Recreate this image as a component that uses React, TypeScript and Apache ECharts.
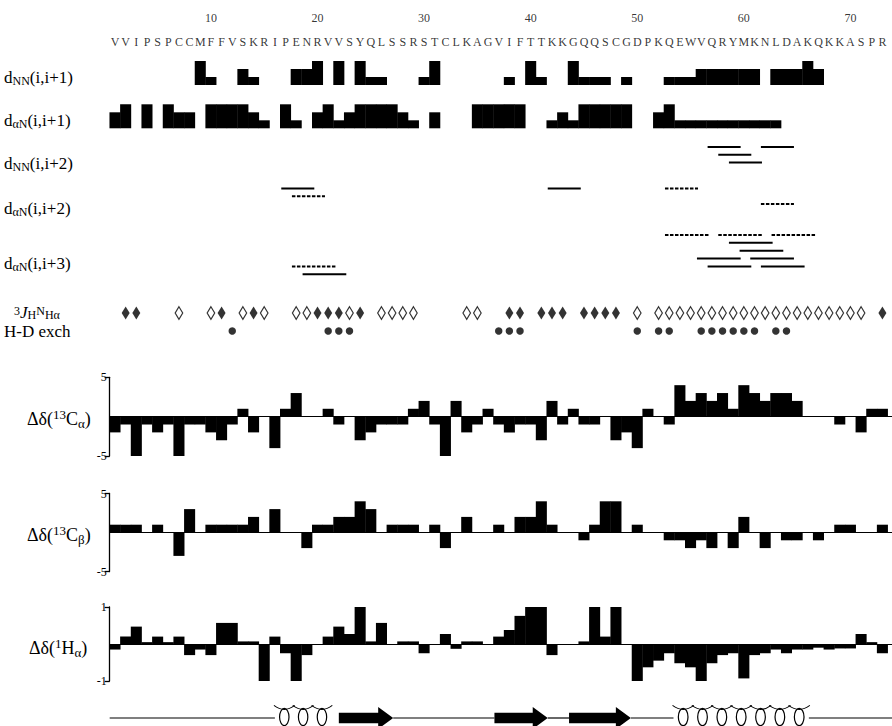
import React, { useEffect, useRef } from 'react';
import * as echarts from 'echarts';

// ---------------- data ----------------
const sequence = 'VVIPSPCCMFFVSKRIPENRVVSYQLSSRSTCLKAGVIFTTKKGQQSCGDPKQEWVQRYMKNLDAKQKKASPR'.split('');
const residueTicks = [10, 20, 30, 40, 50, 60, 70];

// sequential NOEs [residue, intensity] 1 = weak, 2 = medium, 3 = strong
const dNNi1: [number, number][] = [[9,3],[10,1],[13,2],[14,1],[18,2],[19,2],[20,3],[22,3],[24,3],[25,1],[26,1],[30,1],[31,3],[38,1],[40,3],[41,1],[44,3],[45,1],[46,1],[47,1],[49,1],[53,1],[54,1],[55,1],[56,2],[57,2],[58,2],[59,2],[60,2],[61,2],[63,2],[64,2],[65,2],[66,3],[67,2]];
const daNi1: [number, number][] = [[1,2],[2,3],[4,3],[6,3],[7,2],[8,2],[10,3],[11,3],[12,3],[13,3],[14,2],[15,1],[17,3],[18,1],[20,2],[21,3],[22,1],[23,2],[24,3],[25,3],[26,3],[27,3],[28,2],[29,1],[31,2],[35,3],[36,3],[37,3],[38,3],[39,3],[42,1],[43,2],[44,1],[45,3],[46,3],[47,3],[48,3],[49,3],[52,2],[53,3],[54,1],[55,1],[56,1],[57,1],[58,1],[59,1],[60,1],[61,1],[62,1],[63,1]];

// medium-range NOEs [residue i, track, ambiguous(dashed)=1]
const dNNi2: [number, number, number][] = [[57,0,0],[62,0,0],[58,1,0],[59,2,0]];
const daNi2: [number, number, number][] = [[17,0,0],[18,1,1],[42,0,0],[53,0,1],[62,2,1]];
const daNi3: [number, number, number][] = [[53,0,1],[58,0,1],[63,0,1],[59,1,0],[60,2,0],[56,3,0],[61,3,0],[18,4,1],[57,4,0],[62,4,0],[19,5,0]];

// 3J(HN-Ha): large (filled) / small (open)
const jLarge = [2,3,11,14,20,21,22,24,38,39,41,42,43,45,46,47,48,73];
const jSmall = [7,10,13,15,18,19,23,26,27,28,29,34,35,50,52,53,54,55,56,57,58,59,60,61,62,63,64,65,66,67,68,69,70,71];
// slowly exchanging amides
const hdSlow = [12,21,22,23,37,38,39,50,52,53,56,57,58,59,60,61,63,64];

// secondary chemical shifts, residues 1..73
const dCA = [-2,-1,-5,-1,-2,-1,-5,-1,-1,-2, -3,-1,1,-2,0,-4,1,3,0,0, 1,-1,0,-3,-2,-1,-1,-1,1,2, -1,-5,2,-2,-1,1,-1,-2,-1,-1, -3,2,-1,1,-1,-1,0,-3,-2,-4, 1,0,-1,4,2,3,2,3,1,4, 3,2,3,3,2,0,0,0,-1,0, -2,1,1];
const dCB = [1,1,1,0,1,0,-3,3,0,1, 1,1,1,2,0,3,0,0,-2,1, 1,2,2,4,3,0,1,1,1,0, 1,-2,0,2,0,0,1,0,2,2, 4,1,0,0,-1,1,4,4,0,1, 0,0,-1,-1,-2,-1,-2,0,-2,2, 0,-2,0,-1,-1,0,-1,0,1,1, 0,0,1];
const dHA = [-0.15,0.2,0.47,0.05,0.2,0.05,0.2,-0.3,-0.15,-0.3, 0.57,0.57,0.07,0.07,-1,0.2,-0.25,-1,-0.3,0, 0.2,0.47,0.27,1,0.07,0.57,0,0.07,0.07,-0.25, 0,0.27,-0.13,0.07,0.07,0,0.2,0.38,0.76,1, 1,-0.3,0,0,0.07,1,0.2,1,0,-1, -0.63,-0.45,-0.25,-0.52,-0.63,-1,-0.52,-0.3,-0.25,-0.93, -0.3,-0.25,-0.15,-0.25,-0.15,-0.15,-0.1,-0.15,-0.12,-0.12, 0.27,0.05,-0.25];

// secondary structure spans (residue coordinates)
const helixSpans: [number, number][] = [[16.0, 21.3], [53.4, 66.1]];
const helixTurns = [3, 7];
const strandSpans: [number, number][] = [[22.0, 27.1], [36.6, 41.6], [43.6, 49.4]];
const coilSpans: [number, number][] = [[0.5, 16.0], [27.1, 36.6], [41.6, 43.6], [49.4, 53.4], [66.1, 73.9]];

// ---------------- layout ----------------
const F = 'Liberation Serif';
const X_MIN = 0.5;
const X_MAX = 73.9;
const GRID_LEFT = 109.67;

const gridDefs = [
  { top: 18, height: 24 },     // 0 sequence
  { top: 61, height: 24 },     // 1 dNN(i,i+1)
  { top: 104.3, height: 24 },  // 2 daN(i,i+1)
  { top: 147, height: 15.4 },  // 3 dNN(i,i+2)
  { top: 188.5, height: 15.6 },// 4 daN(i,i+2)
  { top: 235, height: 39.3 },  // 5 daN(i,i+3)
  { top: 313, height: 18 },    // 6 J / HD
  { top: 377.3, height: 78.7 },// 7 Ca
  { top: 493.5, height: 78 },  // 8 Cb
  { top: 607, height: 74 },    // 9 Ha
  { top: 708, height: 20 },    // 10 secondary structure
];
const yRanges: [number, number, boolean][] = [
  [0, 1, false], [0, 3, false], [0, 3, false], [0, 2, true], [0, 2, true], [0, 5, true],
  [0, 1, true], [-5, 5, false], [-5, 5, false], [-1, 1, false], [-1, 1, false],
];

const labelDefs = [
  { x: 4, y: 77, text: '{m|d}{sc|NN}{m|(i,i+1)}' },
  { x: 4, y: 120, text: '{m|d}{sc|αN}{m|(i,i+1)}' },
  { x: 4, y: 163, text: '{m|d}{sc|NN}{m|(i,i+2)}' },
  { x: 4, y: 208, text: '{m|d}{sc|αN}{m|(i,i+2)}' },
  { x: 4, y: 263, text: '{m|d}{sc|αN}{m|(i,i+3)}' },
  { x: 14, y: 312.5, text: '{p|3}{i|J}{s|H}{p|N}{s|Hα}' },
  { x: 4, y: 331.5, text: '{h|H-D exch}' },
  { x: 27, y: 419, text: '{M|Δδ(}{P|13}{M|C}{S|α}{M|)}' },
  { x: 27, y: 535, text: '{M|Δδ(}{P|13}{M|C}{S|β}{M|)}' },
  { x: 29, y: 648, text: '{M|Δδ(}{P|1}{M|H}{S|α}{M|)}' },
];

const rich = {
  m: { fontSize: 17, fontFamily: F, lineHeight: 20, fill: '#000', color: '#000' },
  h: { fontSize: 17, fontFamily: F, lineHeight: 16, fill: '#000', color: '#000' },
  i: { fontSize: 17, fontFamily: F, fontStyle: 'italic', lineHeight: 16, fill: '#000', color: '#000' },
  sc: { fontSize: 12, fontFamily: F, lineHeight: 15, verticalAlign: 'bottom', fill: '#000', color: '#000' },
  s: { fontSize: 12, fontFamily: F, lineHeight: 11, verticalAlign: 'bottom', fill: '#000', color: '#000' },
  p: { fontSize: 12, fontFamily: F, lineHeight: 11, verticalAlign: 'top', fill: '#000', color: '#000' },
  M: { fontSize: 18, fontFamily: F, lineHeight: 22, fill: '#000', color: '#000' },
  S: { fontSize: 13, fontFamily: F, lineHeight: 13, verticalAlign: 'bottom', fill: '#000', color: '#000' },
  P: { fontSize: 13, fontFamily: F, lineHeight: 13, verticalAlign: 'top', fill: '#000', color: '#000' },
};

function barSeries(idx: number, data: [number, number][]) {
  return {
    type: 'custom', xAxisIndex: idx, yAxisIndex: idx, silent: true, clip: false,
    data,
    renderItem: (params: any, api: any) => {
      const n = api.value(0);
      const v = api.value(1);
      if (!v) return null;
      const a = api.coord([n - 0.5, 0]);
      const b = api.coord([n + 0.5, v]);
      return {
        type: 'rect',
        shape: { x: a[0] - 0.2, y: Math.min(a[1], b[1]), width: b[0] - a[0] + 0.4, height: Math.abs(b[1] - a[1]) },
        style: { fill: '#000' },
      };
    },
  };
}

function lineSeries(idx: number, k: number, data: [number, number, number][]) {
  return {
    type: 'custom', xAxisIndex: idx, yAxisIndex: idx, silent: true, clip: false,
    data,
    renderItem: (params: any, api: any) => {
      const i = api.value(0);
      const t = api.value(1);
      const dashed = api.value(2) === 1;
      const a = api.coord([i - 0.4, t]);
      const b = api.coord([i + k + 0.7, t]);
      return {
        type: 'line',
        shape: { x1: a[0], y1: a[1], x2: b[0], y2: b[1] },
        style: { stroke: '#000', lineWidth: 2, lineDash: dashed ? [3.5, 1.5] : null },
      };
    },
  };
}

function shiftBars(values: number[]): [number, number][] {
  return values.map((v, i) => [i + 1, v]);
}

const textLabel = {
  show: true, position: 'inside', formatter: (p: any) => p.name,
  color: '#000', fontSize: 12, fontFamily: F, textBorderWidth: 0, textBorderColor: 'transparent',
};

export default function App() {
  const ref = useRef<HTMLDivElement>(null);
  useEffect(() => {
    if (!ref.current) return;
    const chart = echarts.init(ref.current, undefined, { renderer: 'svg' });

    const grid = gridDefs.map((g) => ({ left: GRID_LEFT, right: 0, top: g.top, height: g.height, containLabel: false, outerBoundsMode: 'none' }));
    const xAxis = gridDefs.map((g, i) => ({
      gridIndex: i, type: 'value', min: X_MIN, max: X_MAX,
      show: i >= 7 && i <= 9,
      axisLine: { show: true, onZero: true, lineStyle: { color: '#000', width: 1 } },
      axisTick: { show: false }, axisLabel: { show: false }, splitLine: { show: false },
    }));
    const yAxis = yRanges.map(([mn, mx, inv], i) => {
      const shown = i >= 7 && i <= 9;
      const custom = [mn, mx];
      return {
        gridIndex: i, type: 'value', min: mn, max: mx, inverse: inv,
        show: shown,
        interval: shown ? mx : undefined,
        axisLine: { show: shown, onZero: false, lineStyle: { color: '#000', width: 1.3 } },
        axisTick: { show: shown, length: 5, inside: false, customValues: custom, lineStyle: { color: '#000', width: 1.3 } },
        axisLabel: {
          show: shown, customValues: custom, margin: 3, color: '#000', fontSize: 12, fontFamily: F,
          formatter: (v: number) => (v === 0 ? '' : String(v)),
        },
        splitLine: { show: false },
      };
    });

    const ssData: number[][] = [
      ...coilSpans.map(([s, e]) => [0, s, e, 0]),
      ...helixSpans.map(([s, e], k) => [1, s, e, helixTurns[k]]),
      ...strandSpans.map(([s, e]) => [2, s, e, 0]),
    ];

    const series: any[] = [
      {
        type: 'scatter', xAxisIndex: 0, yAxisIndex: 0, silent: true, clip: false,
        symbolSize: 1, itemStyle: { color: 'rgba(0,0,0,0)' },
        data: sequence.map((c, i) => ({ value: [i + 1, 0], name: c })),
        label: textLabel,
      },
      {
        type: 'scatter', xAxisIndex: 0, yAxisIndex: 0, silent: true, clip: false,
        symbolSize: 1, itemStyle: { color: 'rgba(0,0,0,0)' },
        data: residueTicks.map((n) => ({ value: [n, 1], name: String(n) })),
        label: textLabel,
      },
      barSeries(1, dNNi1),
      barSeries(2, daNi1),
      lineSeries(3, 2, dNNi2),
      lineSeries(4, 2, daNi2),
      lineSeries(5, 3, daNi3),
      {
        type: 'scatter', xAxisIndex: 6, yAxisIndex: 6, silent: true, clip: false,
        symbol: 'diamond', symbolSize: [8, 13],
        itemStyle: { color: '#000' },
        data: jLarge.map((n) => [n, 0]),
      },
      {
        type: 'scatter', xAxisIndex: 6, yAxisIndex: 6, silent: true, clip: false,
        symbol: 'diamond', symbolSize: [7.5, 12.5],
        itemStyle: { color: '#fff', borderColor: '#000', borderWidth: 1.3 },
        data: jSmall.map((n) => [n, 0]),
      },
      {
        type: 'scatter', xAxisIndex: 6, yAxisIndex: 6, silent: true, clip: false,
        symbol: 'circle', symbolSize: 7.5,
        itemStyle: { color: '#000' },
        data: hdSlow.map((n) => [n, 1]),
      },
      barSeries(7, shiftBars(dCA)),
      barSeries(8, shiftBars(dCB)),
      barSeries(9, shiftBars(dHA)),
      {
        type: 'custom', xAxisIndex: 10, yAxisIndex: 10, silent: true, clip: false,
        data: ssData,
        renderItem: (params: any, api: any) => {
          const kind = api.value(0);
          const s = api.value(1);
          const e = api.value(2);
          const turns = api.value(3);
          const a = api.coord([s, 0]);
          const b = api.coord([e, 0]);
          const yc = a[1];
          if (kind === 0) {
            return { type: 'line', shape: { x1: a[0], y1: yc, x2: b[0], y2: yc }, style: { stroke: '#000', lineWidth: 1.2 } };
          }
          if (kind === 2) {
            const hb = 5.3, hh = 11, L = 15;
            return {
              type: 'polygon',
              shape: { points: [[a[0], yc - hb], [b[0] - L, yc - hb], [b[0] - L, yc - hh], [b[0], yc], [b[0] - L, yc + hh], [b[0] - L, yc + hb], [a[0], yc + hb]] },
              style: { fill: '#000' },
            };
          }
          const pitch = (b[0] - a[0]) / turns;
          const children: any[] = [];
          const ry = 8.6;
          const cy = yc - 1;
          for (let k = 0; k < turns; k++) {
            const cx = a[0] + (k + 0.5) * pitch;
            children.push({
              type: 'ellipse', shape: { cx, cy, rx: pitch * 0.25, ry },
              style: { fill: '#fff', stroke: '#000', lineWidth: 1.2 },
            });
            children.push({
              type: 'bezierCurve',
              shape: { x1: cx - pitch * 0.55, y1: cy - ry - 3, cpx1: cx, cpy1: cy - ry + 5, x2: cx + pitch * 0.55, y2: cy - ry - 3 },
              style: { fill: null, stroke: '#000', lineWidth: 1.1 },
            });
          }
          return { type: 'group', children };
        },
      },
    ];

    chart.setOption({
      animation: false,
      backgroundColor: '#fff',
      textStyle: { fontFamily: F },
      grid, xAxis, yAxis, series,
      graphic: labelDefs.map((l) => ({
        type: 'text', x: l.x, y: l.y, silent: true,
        style: { text: l.text, rich, fill: '#000', fontSize: 17, fontFamily: F, verticalAlign: 'middle', align: 'left' },
      })),
    });
    return () => chart.dispose();
  }, []);
  return <div ref={ref} style={{ position: 'absolute', left: 0, top: 0, width: 892, height: 726 }} />;
}
